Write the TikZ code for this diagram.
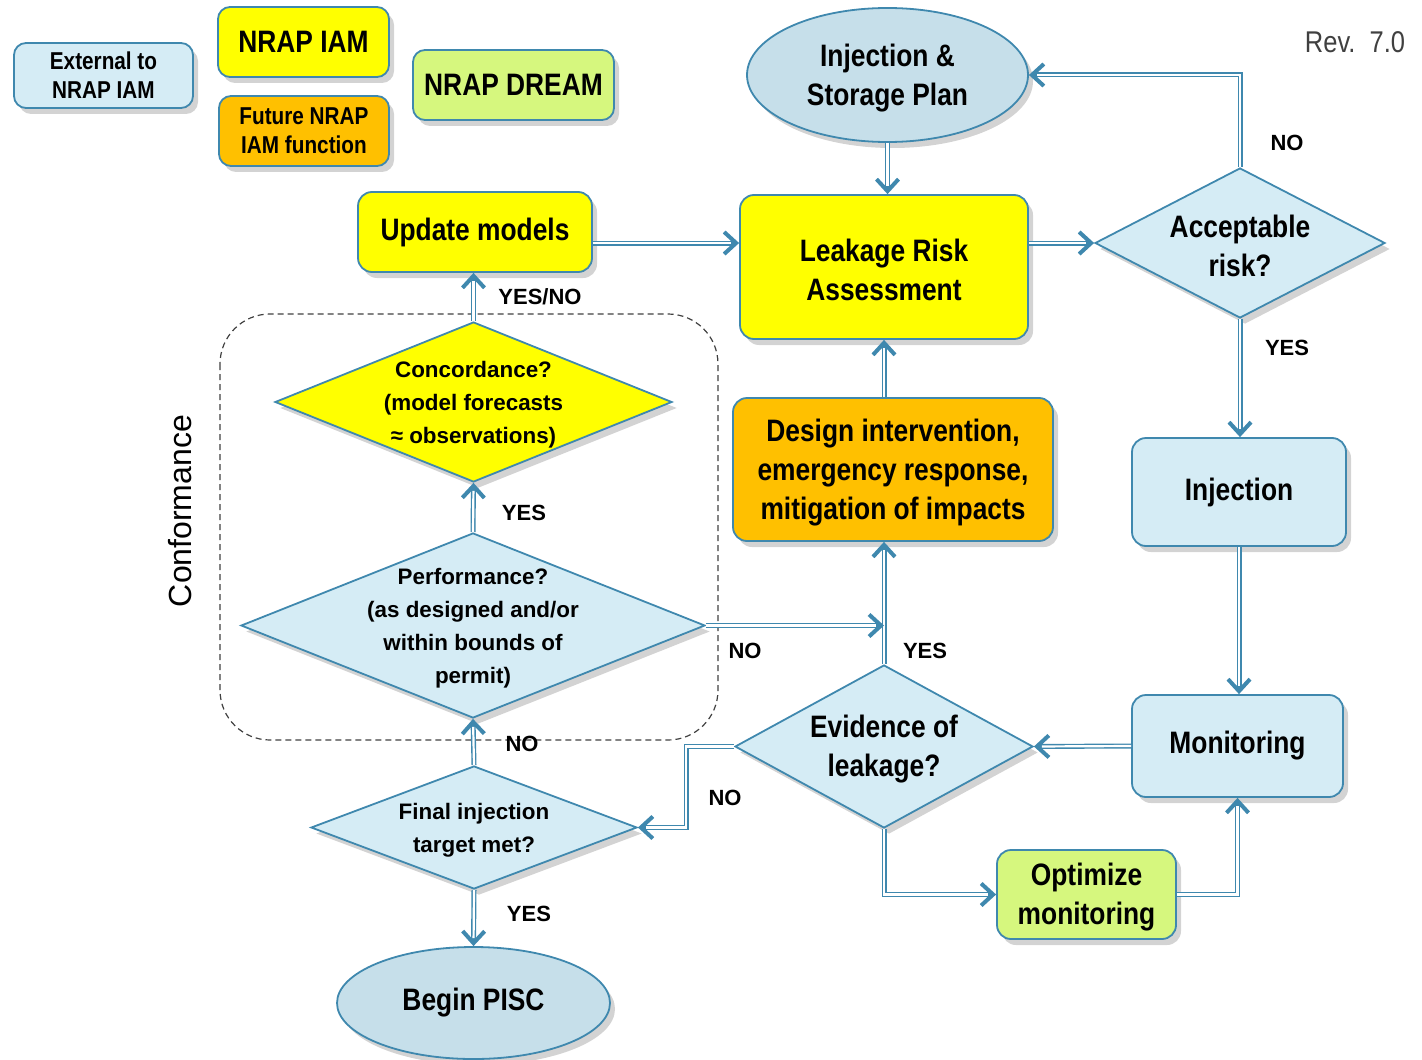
\documentclass[tikz,border=0pt]{standalone}
\usepackage{fontspec}
\setmainfont{Liberation Sans}[FakeStretch=0.85]
\newfontfamily\fullwidth{Liberation Sans}
\usetikzlibrary{shapes.geometric,arrows.meta,shadows}

\definecolor{edgeblue}{HTML}{3F88AE}
\definecolor{paleblue}{HTML}{D5ECF5}
\definecolor{ovalblue}{HTML}{C6DFEA}
\definecolor{iamyellow}{HTML}{FFFF00}
\definecolor{futorange}{HTML}{FFC000}
\definecolor{dreamgreen}{HTML}{D6F77E}
\definecolor{revgray}{HTML}{404040}

\newcommand\bigtxt{\bfseries\fontsize{15.5}{19.5}\selectfont}
\newcommand\legtxt{\bfseries\fontsize{12.2}{14.5}\selectfont}
\newcommand\midtxt{\fullwidth\bfseries\fontsize{11.2}{16.5}\selectfont}
\newcommand\anstxt{\fullwidth\bfseries\fontsize{11}{13}\selectfont}

\begin{document}
\begin{tikzpicture}[x=0.5pt,y=-0.5pt,
    base/.style={draw=edgeblue, line width=0.9pt, align=center, inner sep=0pt,
      drop shadow={shadow xshift=2.5pt, shadow yshift=-3pt, opacity=0.35}},
    stepbox/.style={base, rounded corners=7pt, font=\bigtxt},
    legend/.style={base, rounded corners=6pt, font=\legtxt},
    decide/.style={base, diamond, fill=paleblue},
    oval/.style={base, ellipse, fill=ovalblue, font=\bigtxt},
    dtext/.style={align=center, inner sep=0pt, yshift=-1.5pt},
    link/.style={draw=edgeblue, line width=2.5pt,
      -{Straight Barb[length=6pt,width=11pt,line width=2pt]},
      postaction={draw=white, line width=1.1pt, -, shorten >=4pt}},
    answer/.style={font=\anstxt, inner sep=0pt}]
  \useasboundingbox (0,0) rectangle (1422,1059);

  % legend
  \node[legend, fill=paleblue, minimum width=89.5pt, minimum height=32.5pt] (ext) at (103.5,75.5) {External to\\NRAP IAM};
  \node[legend, fill=iamyellow, font=\bigtxt, minimum width=85.5pt, minimum height=35pt] (iam) at (303.5,42) {NRAP IAM};
  \node[legend, fill=futorange, minimum width=85pt, minimum height=35pt] (fut) at (304,131) {Future NRAP\\IAM function};
  \node[legend, fill=dreamgreen, font=\bigtxt, minimum width=100.5pt, minimum height=35pt] (dream) at (513.5,85) {NRAP DREAM};
  \node[text=revgray, font=\fontsize{15}{18}\selectfont] (rev) at (1355,42) {Rev.~~7.0};

  % conformance loop
  \draw[dashed, dash pattern=on 3pt off 2pt, line width=0.6pt, black!75, rounded corners=25pt] (220,314) rectangle (718,740);
  \node[rotate=90, font=\fullwidth\fontsize{16}{19}\selectfont] (conf) at (180,511) {Conformance};

  % main flow
  \node[oval, minimum width=140.5pt, minimum height=67pt] (plan) at (887.5,75) {};
  \node[dtext, font=\bigtxt] (plan-t) at (plan) {Injection \&\\Storage Plan};
  \node[stepbox, fill=iamyellow, minimum width=144pt, minimum height=72pt] (lra) at (884,267) {};
  \node[dtext, font=\bigtxt] (lra-t) at (lra) {Leakage Risk\\Assessment};
  \node[decide, minimum width=145pt, minimum height=75pt] (risk) at (1240,243) {};
  \node[dtext, font=\bigtxt] (risk-t) at (risk) {Acceptable\\risk?};
  \node[stepbox, fill=iamyellow, minimum width=117pt, minimum height=40pt] (upd) at (475,232) {Update models};
  \node[decide, fill=iamyellow, minimum width=198.5pt, minimum height=80pt] (conc) at (473.5,402) {};
  \node[dtext, font=\midtxt] (conc-t) at (conc) {Concordance?\\(model forecasts\\≈ observations)};
  \node[decide, minimum width=232pt, minimum height=92.5pt] (perf) at (473,625.5) {};
  \node[dtext, font=\midtxt] (perf-t) at (perf) {Performance?\\(as designed and/or\\within bounds of\\permit)};
  \node[stepbox, fill=futorange, minimum width=160pt, minimum height=71.5pt] (dsgn) at (893,469.5) {};
  \node[dtext, font=\bigtxt] (dsgn-t) at (dsgn) {Design intervention,\\emergency response,\\mitigation of impacts};
  \node[stepbox, fill=paleblue, minimum width=107pt, minimum height=54pt] (inj) at (1239,492) {Injection};
  \node[stepbox, fill=paleblue, minimum width=105.5pt, minimum height=51pt] (mon) at (1237.5,746) {Monitoring};
  \node[decide, minimum width=149pt, minimum height=81.5pt] (evid) at (884,746.5) {};
  \node[dtext, font=\bigtxt] (evid-t) at (evid) {Evidence of\\leakage?};
  \node[decide, minimum width=163pt, minimum height=61.5pt] (fin) at (474,827.5) {};
  \node[dtext, font=\midtxt] (fin-t) at (fin) {Final injection\\target met?};
  \node[oval, minimum width=136.5pt, minimum height=56pt] (pisc) at (473.5,1003) {Begin PISC};
  \node[stepbox, fill=dreamgreen, minimum width=89.5pt, minimum height=44.5pt] (opt) at (1086.5,894.5) {};
  \node[dtext, font=\bigtxt] (opt-t) at (opt) {Optimize\\monitoring};
  \coordinate (nobend) at (686,746.5);

  % connectors
  \draw[link] (plan.south) -- (plan.south |- lra.north);
  \draw[link] (upd.east |- risk) -- (lra.west |- risk);
  \draw[link] (lra.east |- risk) -- (risk.west);
  \draw[link] (risk.north) |- (plan.east);
  \draw[link] (risk.south) -- (risk.south |- inj.north);
  \draw[link] (inj.south) -- (inj.south |- mon.north);
  \draw[link] (mon.west) -- (evid.east);
  \draw[link] (evid.north) -- (evid.north |- dsgn.south);
  \draw[link] (evid.north |- dsgn.north) -- (evid.north |- lra.south);
  \draw[link] (evid.south) |- (opt.west);
  \draw[link] (opt.east) -| (mon.south);
  \draw[link] (evid.west) -- (nobend) |- (fin.east);
  \draw[link] (perf.east) -- (perf.east -| evid.north);
  \draw[link] (perf.north) -- (conc.south);
  \draw[link] (conc.north) -- (conc.north |- upd.south);
  \draw[link] (fin.north) -- (perf.south);
  \draw[link] (fin.south) -- (pisc.north);

  % answers
  \node[answer] (a-risk-no) at (1287,143) {NO};
  \node[answer] (a-risk-yes) at (1287,348) {YES};
  \node[answer] (a-conc) at (540,297) {YES/NO};
  \node[answer] (a-perf-yes) at (524,513) {YES};
  \node[answer] (a-perf-no) at (745,651) {NO};
  \node[answer] (a-evid-yes) at (925,651) {YES};
  \node[answer] (a-fin-no) at (522,744) {NO};
  \node[answer] (a-evid-no) at (725,798) {NO};
  \node[answer] (a-fin-yes) at (529,914) {YES};
\end{tikzpicture}
\end{document}
